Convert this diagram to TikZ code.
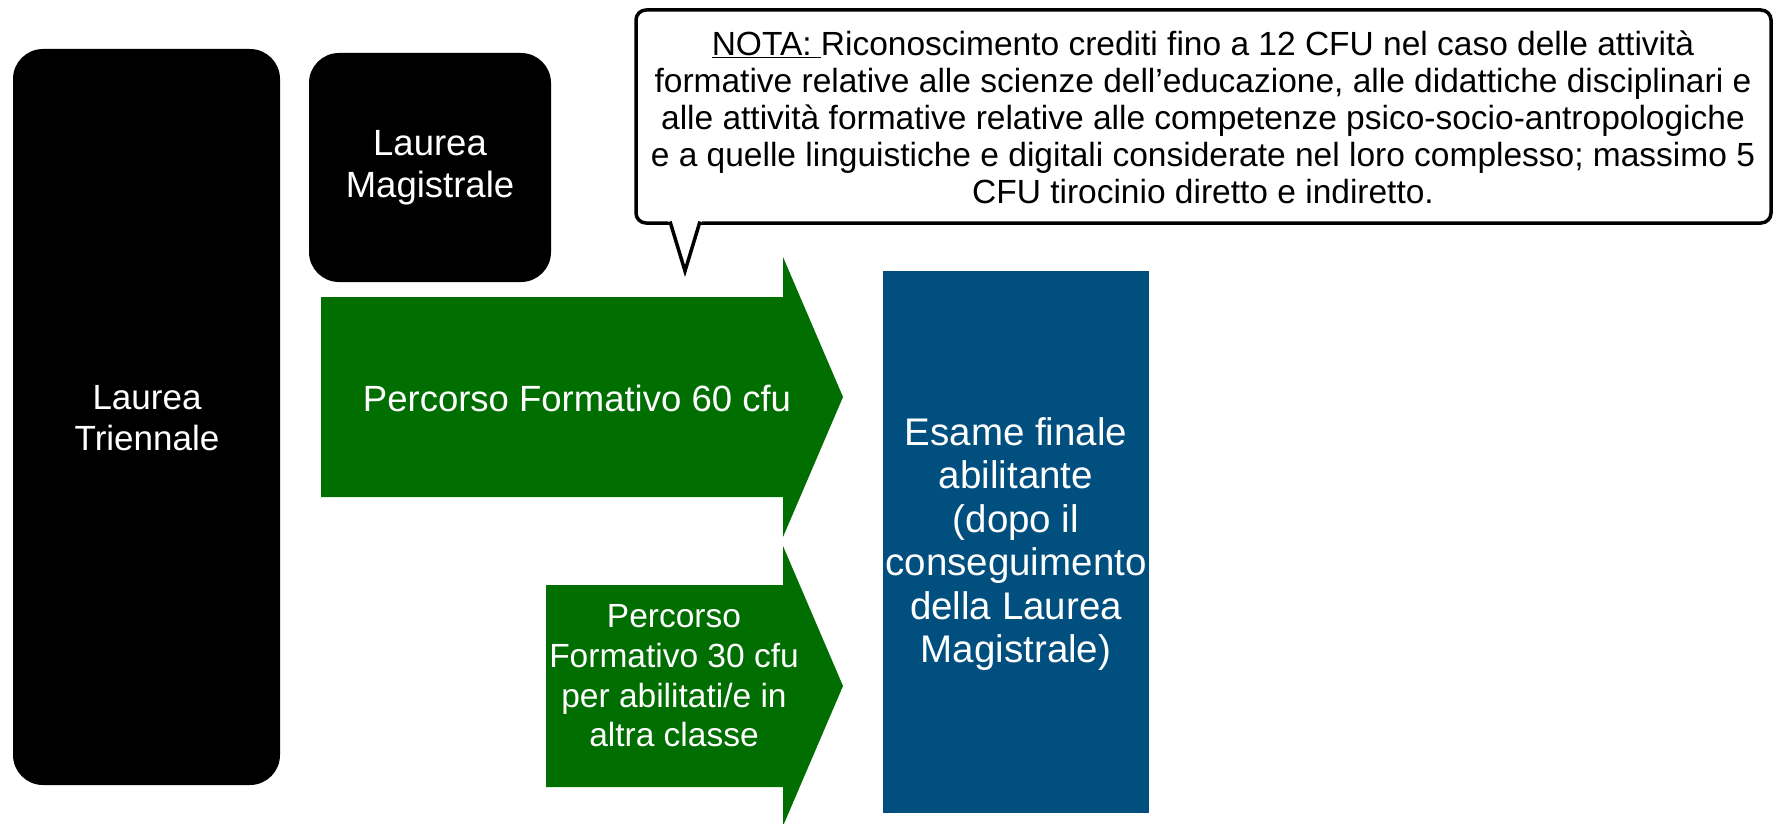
\documentclass[tikz,border=0pt]{standalone}
\usepackage{fontspec}
\setmainfont{Liberation Sans}
\definecolor{lgreen}{RGB}{0,110,0}
\definecolor{lblue}{RGB}{0,79,127}
\begin{document}
\begin{tikzpicture}[x=1pt,y=-1pt,
  blackbox/.style={fill=black, rounded corners=30pt},
  wtext/.style={text=white, align=center, inner sep=0pt},
  greenarrow/.style={fill=lgreen},
  bluebox/.style={fill=lblue},
  calloutbox/.style={draw=black, line width=3.5pt, fill=white, rounded corners=10pt, inner sep=0pt},
  callouttext/.style={text=black, align=center, inner sep=0pt, font=\fontsize{33.5}{37}\selectfont},
  ]
\useasboundingbox (0,0) rectangle (1774,824);
% black boxes
\fill[blackbox] (13,49) rectangle (280,785);
\node[wtext, font=\fontsize{35}{41}\selectfont] (tri) at (147,418) {Laurea\\Triennale};
\fill[blackbox] (309,53) rectangle (551,282);
\node[wtext, font=\fontsize{36.5}{42}\selectfont] (mag) at (430,168) {Laurea\\Magistrale};
% green arrows
\fill[greenarrow] (321,297) -- (783,297) -- (783,257) -- (843,397) -- (783,537) -- (783,497) -- (321,497) -- cycle;
\node[wtext, font=\fontsize{36.5}{42}\selectfont] (p60) at (577,398) {Percorso Formativo 60 cfu};
\fill[greenarrow] (546,585) -- (783,585) -- (783,546) -- (843,686) -- (783,826) -- (783,787) -- (546,787) -- cycle;
\node[wtext, font=\fontsize{33.5}{39.6}\selectfont] (p30) at (674,676) {Percorso\\Formativo 30 cfu\\per abilitati/e in\\altra classe};
% blue box
\fill[bluebox] (883,271) rectangle (1149,813);
\node[wtext, font=\fontsize{38.5}{43.4}\selectfont] (esame) at (1016,544) {Esame finale\\abilitante\\(dopo il\\conseguimento\\della Laurea\\Magistrale)};
% callout
\node[calloutbox, minimum width=1135pt, minimum height=213pt] (notabox) at (1203.5,116.5) {};
\fill[white] (668,220.5) -- (702,220.5) -- (685,272) -- cycle;
\draw[line width=3.5pt, line join=miter] (670,221.5) -- (685,271) -- (700,221.5);
\node[callouttext] (nota) at (1203,117) {\underline{NOTA:\ }Riconoscimento crediti fino a 12 CFU nel caso delle attività\\
formative relative alle scienze dell’educazione, alle didattiche disciplinari e\\
alle attività formative relative alle competenze psico-socio-antropologiche\\
e a quelle linguistiche e digitali considerate nel loro complesso; massimo 5\\
CFU tirocinio diretto e indiretto.};
\end{tikzpicture}
\end{document}
